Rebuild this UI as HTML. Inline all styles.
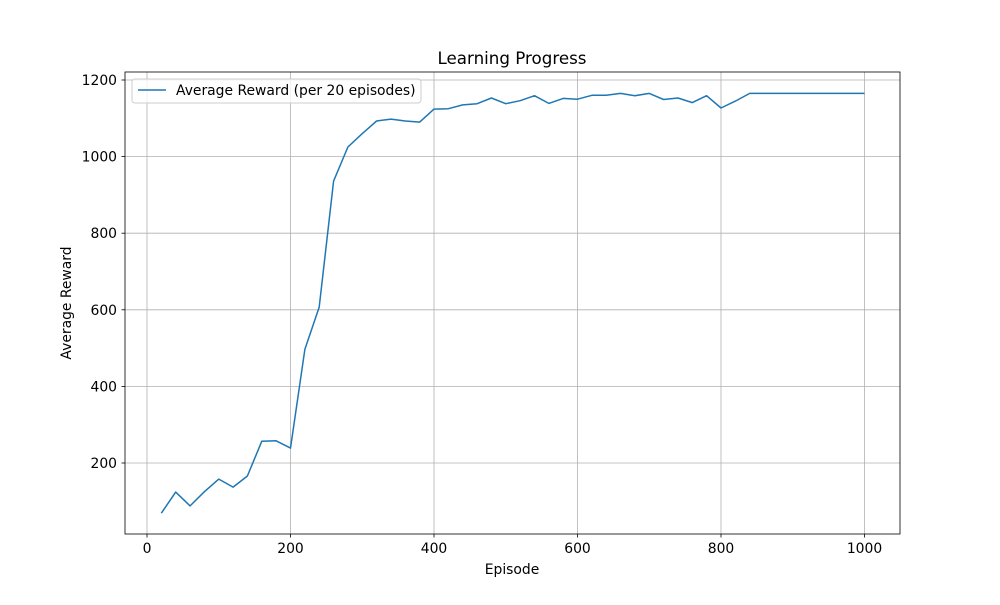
<!DOCTYPE html>
<html><head><meta charset="utf-8"><style>
body{margin:0;background:#fff;font-family:"Liberation Sans","DejaVu Sans",sans-serif;}
svg text{font-family:"DejaVu Sans","Liberation Sans",sans-serif;}
</style></head><body>
<svg id="chart" width="1000" height="600" xmlns="http://www.w3.org/2000/svg">
<rect width="1000" height="600" fill="#fff"/>
<g id="grid"></g>
<path id="line" fill="none" stroke="#1f77b4" stroke-width="1.5" stroke-linejoin="round"/>
<rect x="125" y="72" width="775" height="462" fill="none" stroke="#000" stroke-width="0.8"/>
<g id="ticks"></g>
<text x="512" y="64" text-anchor="middle" font-size="16.7">Learning Progress</text>
<text x="512" y="574" text-anchor="middle" font-size="13.9">Episode</text>
<text transform="translate(71,303) rotate(-90)" text-anchor="middle" font-size="13.9">Average Reward</text>
<g>
<rect x="132" y="79" width="289" height="24" rx="3" fill="#fff" fill-opacity="0.8" stroke="#ccc"/>
<line x1="138" y1="90" x2="166" y2="90" stroke="#1f77b4" stroke-width="1.5"/>
<text x="176" y="95" font-size="13.9">Average Reward (per 20 episodes)</text>
</g>
</svg>
<script>
const episodes=[];for(let i=1;i<=50;i++)episodes.push(i*20);
const rewards=[69,124,88,125,158,137,166,257,258,239,497,607,936,1025,1060,1093,1098,1093,1090,1124,1125,1135,1138,1153,1138,1146,1159,1139,1152,1150,1160,1160,1165,1159,1165,1149,1153,1141,1159,1127,1145,1165,1165,1165,1165,1165,1165,1165,1165,1165];
const xTicks=[0,200,400,600,800,1000];
const yTicks=[200,400,600,800,1000,1200];
const xs=v=>147+v*0.7175;
const ys=v=>539.6-v*0.383;
const ns="http://www.w3.org/2000/svg";
const grid=document.getElementById('grid'),ticks=document.getElementById('ticks');
function mk(tag,attrs,parent){const e=document.createElementNS(ns,tag);for(const k in attrs)e.setAttribute(k,attrs[k]);parent.appendChild(e);return e;}
xTicks.forEach(t=>{const x=xs(t);
const g=mk('line',{x1:x,x2:x,y1:72,y2:534,stroke:'#b0b0b0','stroke-width':0.8},grid);


mk('line',{x1:x,x2:x,y1:534,y2:537.5,stroke:'#000','stroke-width':0.8},ticks);
const tx=mk('text',{x:x,y:553,'text-anchor':'middle','font-size':13.9},ticks);tx.textContent=t;

});
yTicks.forEach(t=>{const y=ys(t);
const g=mk('line',{x1:125,x2:900,y1:y,y2:y,stroke:'#b0b0b0','stroke-width':0.8},grid);


mk('line',{x1:121.5,x2:125,y1:y,y2:y,stroke:'#000','stroke-width':0.8},ticks);
const tx=mk('text',{x:117,y:y+5,'text-anchor':'end','font-size':13.9},ticks);tx.textContent=t;

});
document.getElementById('line').setAttribute('d',episodes.map((e,i)=>(i?'L':'M')+xs(e).toFixed(1)+' '+ys(rewards[i]).toFixed(1)).join(' '));
</script>
</body></html>
